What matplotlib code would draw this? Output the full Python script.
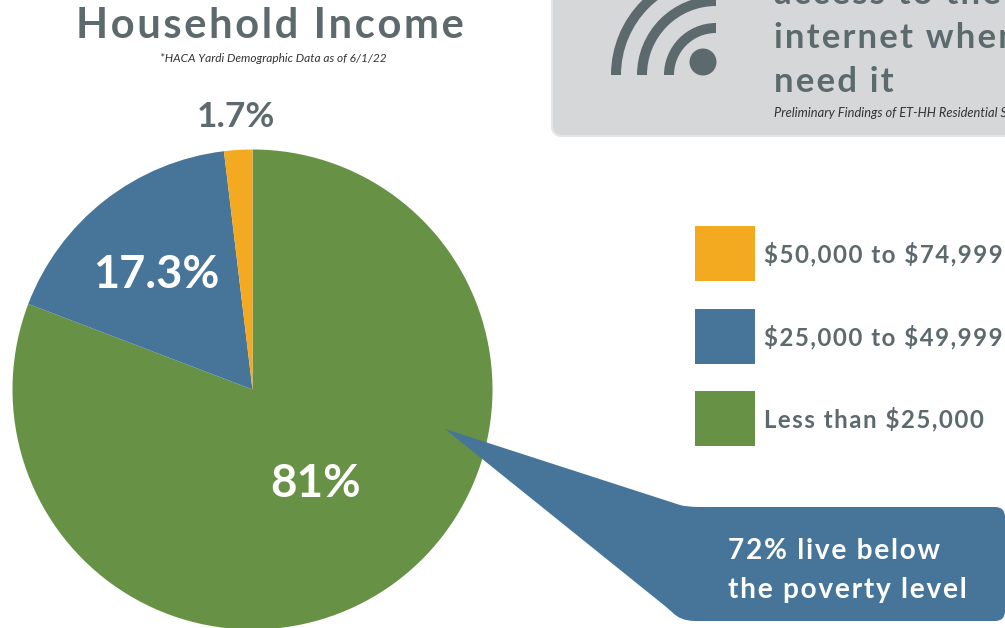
import matplotlib
matplotlib.use("Agg")
import matplotlib.pyplot as plt
from matplotlib.patches import Rectangle, Wedge, Circle, FancyBboxPatch, PathPatch
from matplotlib.path import Path

plt.rcParams['font.family'] = ['Lato', 'DejaVu Sans']

# data
categories = ["Less than $25,000", "$25,000 to $49,999", "$50,000 to $74,999"]
# slice sizes as drawn, the printed labels differ a little from them
shares = [80.8, 17.3, 1.9]
share_labels = ["81%", "17.3%", "1.7%"]
colors = ["#679145", "#467599", "#f4aa20"]
legend_order = [2, 1, 0]

GRAY = "#5d6a6d"
W, H = 1005, 628


def spaced(s):
    # letter spacing, the original font is set wide
    return "\u200a".join(s).replace("$", r"\$")


fig = plt.figure(figsize=(W / 100, H / 100), dpi=100, facecolor="white")

# pie, centred at pixel (252.5, 389) with radius 240
cx, cy, r = 252.5, 389.5, 240
ax_pie = fig.add_axes([(cx - r) / W, 1 - (cy + r) / H, 2 * r / W, 2 * r / H])
ax_pie.pie(shares, colors=colors, startangle=90, counterclock=False, radius=1,
           wedgeprops=dict(linewidth=0))
ax_pie.set_xlim(-1, 1)
ax_pie.set_ylim(-1, 1)

# everything else in pixel coordinates
ax = fig.add_axes([0, 0, 1, 1], facecolor="none")
ax.set_xlim(0, W)
ax.set_ylim(H, 0)
ax.axis("off")

ax.text(269.5, 26, spaced("Household Income"), color=GRAY, fontsize=30, fontweight="bold",
        ha="center", va="center")
ax.text(273, 58, "*HACA Yardi Demographic Data as of 6/1/22", color="#333333", fontsize=8.6,
        style="italic", ha="center", va="center")

# slice labels
ax.text(316, 484, share_labels[0], color="white", fontsize=33, fontweight="bold", ha="center", va="center")
ax.text(156, 275, share_labels[1], color="white", fontsize=32.5, fontweight="bold", ha="center", va="center")
ax.text(236, 117, share_labels[2], color=GRAY, fontsize=25.5, fontweight="bold", ha="center", va="center")

# grey box top right
ax.add_patch(FancyBboxPatch((552, -40), 500, 176, boxstyle="round,pad=0,rounding_size=10",
                            facecolor="#d5d7d9", edgecolor="#e4e5e6", linewidth=1.5))

# wifi icon
ax.add_patch(Circle((703, 62), 13.5, color=GRAY, lw=0))
for outer in [52, 79, 105]:
    ax.add_patch(Wedge((716, 75), outer, 180, 270, width=10, color=GRAY, lw=0))

for txt, y in [("access to the", -6), ("internet when I", 38), ("need it", 82)]:
    ax.text(774, y, spaced(txt), color=GRAY, fontsize=25, fontweight="bold", ha="left", va="center")
ax.text(774, 113, "Preliminary Findings of ET-HH Residential Survey", color="#333333", fontsize=9.3,
        style="italic", ha="left", va="center")

# legend
legend_tops = [226, 309, 391]
for i, top in zip(legend_order, legend_tops):
    ax.add_patch(Rectangle((695, top), 59.5, 55, facecolor=colors[i], lw=0))
    ax.text(764, top + 28, spaced(categories[i]), color=GRAY, fontsize=17.3, fontweight="bold",
            ha="left", va="center")

# callout
verts = [(445, 429), (680, 505), (686, 507), (700, 507), (995, 507), (1005, 507), (1005, 517),
         (1005, 611), (1005, 621), (995, 621), (695, 621), (680, 621), (672, 612), (665, 606),
         (445, 429)]
codes = [Path.MOVETO, Path.LINETO, Path.CURVE3, Path.CURVE3, Path.LINETO, Path.CURVE3, Path.CURVE3,
         Path.LINETO, Path.CURVE3, Path.CURVE3, Path.LINETO, Path.CURVE3, Path.CURVE3, Path.LINETO,
         Path.CLOSEPOLY]
ax.add_patch(PathPatch(Path(verts, codes), facecolor=colors[1], lw=0))
ax.text(728, 551, spaced("72% live below"), color="white", fontsize=20.2, fontweight="bold", ha="left", va="center")
ax.text(728, 590, spaced("the poverty level"), color="white", fontsize=20.2, fontweight="bold", ha="left", va="center")

fig.savefig("out.png", dpi=100)
